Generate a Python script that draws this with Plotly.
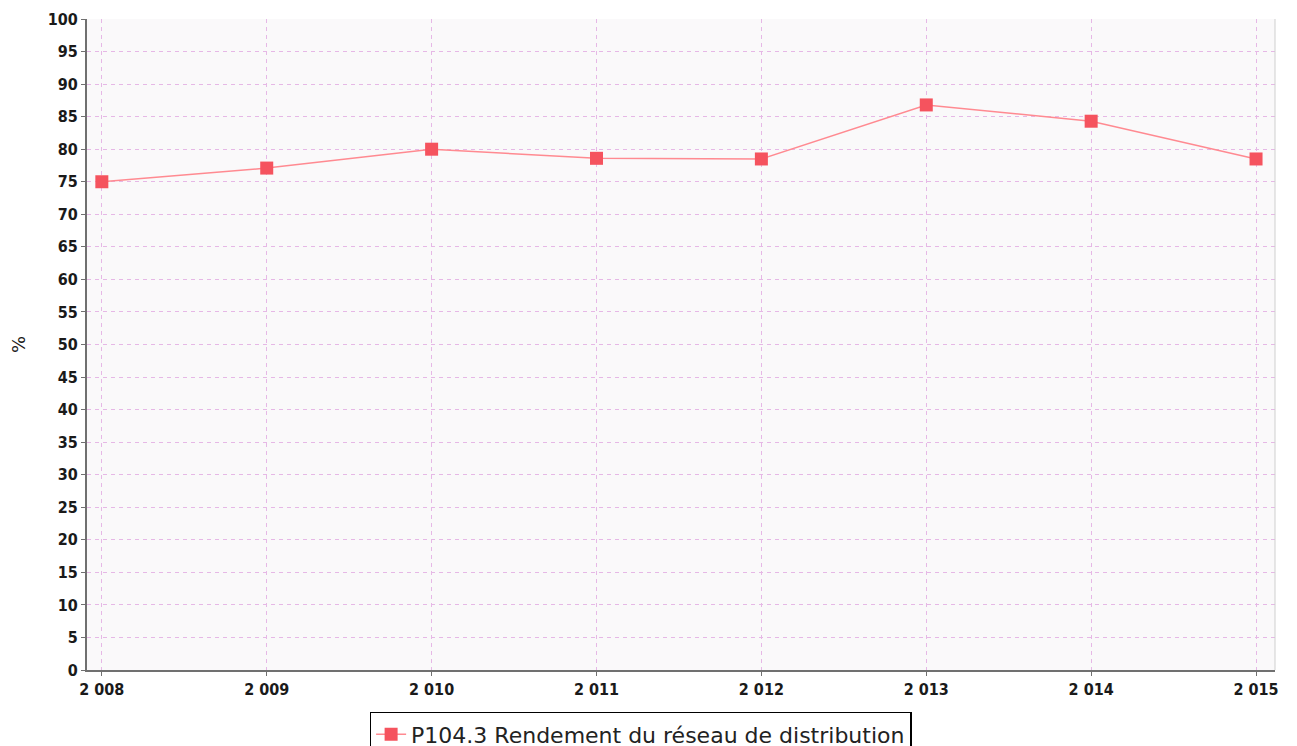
import plotly.graph_objects as go

years = [2008, 2009, 2010, 2011, 2012, 2013, 2014, 2015]
year_labels = ["2 008", "2 009", "2 010", "2 011", "2 012", "2 013", "2 014", "2 015"]
rendement = [75.0, 77.1, 80.0, 78.6, 78.5, 86.8, 84.3, 78.5]
y_ticks = list(range(0, 101, 5))
series_name = "P104.3 Rendement du réseau de distribution"

tick_font = dict(family="DejaVu Sans Condensed", size=16, color="#1a1a1a", weight="bold")

fig = go.Figure()
fig.add_trace(go.Scatter(
    x=years, y=rendement, mode="lines+markers", name=series_name,
    line=dict(color="#ff8a91", width=1.5),
    marker=dict(symbol="square", size=13, color="#f5535e"),
))

fig.update_layout(
    width=1281, height=770,
    margin=dict(l=79, r=14, t=11, b=108),
    paper_bgcolor="white",
    plot_bgcolor="#faf9fa",
    showlegend=True,
    legend=dict(
        orientation="h", x=0.466, xanchor="center", y=-0.0645, yanchor="top",
        bordercolor="black", borderwidth=1.5, bgcolor="white",
        font=dict(family="DejaVu Sans", size=22, color="#222"),
        itemwidth=30,
    ),
    font=dict(family="DejaVu Sans", size=14, color="#111"),
)
fig.update_xaxes(
    range=[2008 - 0.09, 2015 + 0.115],
    tickvals=years, ticktext=year_labels,
    showgrid=True, gridcolor="#e6b8e6", griddash="4px,4px", gridwidth=1,
    showline=True, linecolor="#707070", linewidth=2,
    ticks="outside", ticklen=4, tickcolor="#707070",
    tickfont=tick_font,
    zeroline=False, automargin=False,
)
fig.update_yaxes(
    range=[0, 100], tickvals=y_ticks,
    title=dict(text="%", font=dict(family="DejaVu Sans", size=18, color="#1a1a1a"), standoff=24),
    showgrid=True, gridcolor="#e6b8e6", griddash="4px,4px", gridwidth=1,
    showline=True, linecolor="#707070", linewidth=2,
    ticks="outside", ticklen=4, tickcolor="#707070",
    tickfont=tick_font,
    zeroline=False, automargin=False,
)
fig.add_shape(type="line", xref="paper", yref="paper", x0=1, x1=1, y0=0, y1=1,
              line=dict(color="#cfcfcf", width=1))

fig.write_html("out.html")
